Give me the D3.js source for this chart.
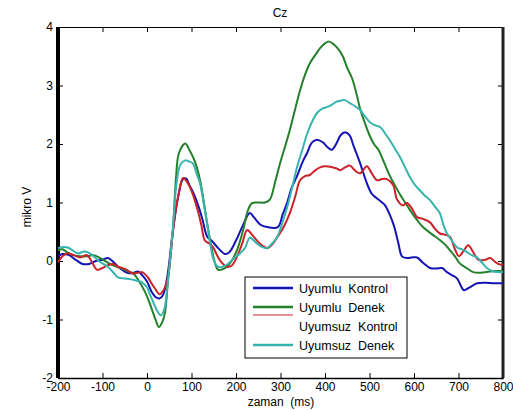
<!DOCTYPE html>
<html>
<head>
<meta charset="utf-8">
<script src="https://cdn.jsdelivr.net/npm/d3@7"></script>
<style>
  body { margin: 0; background: #fff; }
  svg text { font-family: "Liberation Sans", Arial, sans-serif; fill: #000; }
</style>
</head>
<body>
<svg id="chart" width="513" height="410"></svg>
<script>
// ERP dalga formları, Cz elektrodu  [ms, mikroV]
const uyumluKontrol = [[-200,0.08],[-190,0.12],[-175,0.1],[-160,0.02],[-145,-0.05],[-130,-0.05],[-115,0.0],[-100,0.02],[-88,0.05],[-75,-0.02],[-65,-0.1],[-50,-0.18],[-40,-0.21],[-30,-0.2],[-20,-0.18],[-10,-0.25],[0,-0.35],[10,-0.52],[20,-0.62],[28,-0.64],[36,-0.58],[45,-0.3],[58,0.5],[70,1.1],[81,1.4],[88,1.41],[95,1.3],[105,1.15],[115,0.95],[125,0.7],[135,0.42],[145,0.35],[160,0.22],[175,0.12],[185,0.15],[200,0.35],[215,0.6],[231,0.82],[240,0.75],[255,0.62],[270,0.58],[294,0.58],[305,0.8],[315,1.0],[325,1.25],[337,1.45],[350,1.7],[360,1.85],[370,2.02],[380,2.07],[395,2.03],[405,1.95],[415,1.9],[425,2.0],[435,2.15],[445,2.2],[455,2.15],[465,1.95],[479,1.67],[494,1.33],[505,1.15],[515,1.08],[525,1.02],[535,0.95],[545,0.8],[555,0.6],[565,0.3],[573,0.08],[585,0.05],[595,0.06],[607,0.06],[620,-0.03],[636,-0.12],[650,-0.13],[663,-0.12],[674,-0.19],[685,-0.24],[697,-0.3],[705,-0.42],[712,-0.5],[725,-0.45],[742,-0.38],[760,-0.37],[780,-0.38],[800,-0.38]];

const uyumluDenek = [[-200,0.18],[-190,0.2],[-180,0.15],[-165,0.1],[-150,0.08],[-135,0.08],[-120,0.1],[-105,0.05],[-90,-0.02],[-75,-0.08],[-60,-0.12],[-45,-0.17],[-30,-0.22],[-20,-0.32],[-5,-0.52],[5,-0.7],[12,-0.85],[20,-1.02],[27,-1.13],[34,-1.05],[40,-0.9],[47,-0.35],[58,0.5],[65,1.4],[72,1.85],[86,2.01],[95,1.9],[105,1.75],[112,1.6],[120,1.35],[126,1.09],[134,0.7],[142,0.35],[153,-0.04],[160,-0.15],[170,-0.14],[180,-0.1],[190,0.0],[202,0.18],[215,0.5],[227,0.87],[236,0.99],[250,1.0],[265,1.0],[276,1.05],[288,1.35],[299,1.67],[310,1.95],[321,2.24],[333,2.6],[344,2.92],[355,3.18],[366,3.38],[378,3.52],[389,3.64],[400,3.72],[409,3.75],[420,3.7],[430,3.62],[440,3.5],[450,3.3],[461,3.12],[470,2.88],[479,2.6],[490,2.35],[500,2.15],[510,2.0],[520,1.9],[533,1.68],[546,1.45],[558,1.28],[570,1.12],[580,1.0],[591,0.87],[605,0.72],[620,0.58],[640,0.46],[658,0.36],[670,0.28],[681,0.18],[692,0.08],[703,-0.04],[718,-0.12],[733,-0.19],[750,-0.2],[770,-0.18],[785,-0.17],[800,-0.17]];

const uyumsuzKontrol = [[-200,-0.02],[-190,0.08],[-180,0.13],[-165,0.1],[-150,0.06],[-135,0.1],[-125,0.0],[-112,-0.15],[-100,-0.12],[-90,-0.08],[-76,-0.05],[-65,-0.1],[-56,-0.12],[-45,-0.15],[-34,-0.21],[-20,-0.2],[-11,-0.19],[2,-0.28],[10,-0.38],[18,-0.47],[28,-0.57],[37,-0.5],[47,-0.28],[58,0.5],[70,1.1],[81,1.42],[90,1.35],[100,1.2],[112,0.92],[122,0.62],[130,0.35],[140,0.3],[148,0.24],[156,0.12],[164,0.01],[172,-0.06],[180,-0.1],[190,-0.08],[202,0.07],[214,0.3],[225,0.53],[236,0.45],[247,0.35],[258,0.27],[270,0.22],[281,0.28],[292,0.4],[305,0.55],[321,0.82],[333,1.1],[344,1.38],[355,1.45],[366,1.47],[378,1.55],[389,1.6],[400,1.62],[418,1.6],[427,1.58],[434,1.55],[445,1.6],[456,1.63],[467,1.55],[479,1.5],[494,1.62],[505,1.5],[517,1.38],[528,1.4],[539,1.4],[553,1.3],[562,1.05],[575,0.95],[584,0.99],[595,0.9],[607,0.75],[620,0.72],[636,0.66],[647,0.55],[658,0.47],[670,0.45],[681,0.41],[692,0.2],[701,0.08],[712,0.18],[722,0.27],[733,0.15],[745,0.02],[760,0.02],[771,0.05],[783,-0.02],[793,-0.06],[800,-0.06]];

const uyumsuzDenek = [[-200,0.22],[-188,0.24],[-178,0.23],[-165,0.17],[-155,0.13],[-143,0.16],[-133,0.15],[-120,0.08],[-110,0.01],[-98,-0.05],[-88,-0.1],[-75,-0.2],[-65,-0.28],[-50,-0.3],[-38,-0.31],[-27,-0.33],[-15,-0.35],[-9,-0.38],[0,-0.45],[7,-0.58],[15,-0.72],[22,-0.84],[31,-0.93],[39,-0.82],[47,-0.35],[58,0.55],[66,1.3],[75,1.65],[86,1.72],[95,1.7],[103,1.67],[111,1.5],[119,1.33],[127,1.0],[135,0.64],[142,0.3],[148,0.06],[154,-0.05],[160,-0.1],[170,-0.1],[180,-0.06],[186,-0.02],[197,0.06],[209,0.13],[220,0.22],[231,0.4],[240,0.35],[247,0.3],[258,0.24],[270,0.22],[281,0.3],[292,0.4],[304,0.65],[315,0.92],[326,1.25],[337,1.6],[349,1.9],[360,2.18],[371,2.38],[382,2.53],[393,2.6],[404,2.63],[415,2.67],[425,2.72],[434,2.74],[445,2.75],[456,2.7],[467,2.65],[479,2.58],[490,2.47],[501,2.37],[512,2.32],[524,2.29],[535,2.18],[546,2.06],[557,1.92],[569,1.77],[580,1.6],[591,1.43],[602,1.3],[613,1.21],[624,1.12],[636,1.04],[647,0.93],[658,0.82],[666,0.62],[674,0.47],[685,0.35],[697,0.23],[708,0.2],[719,0.15],[730,0.1],[742,0.06],[753,-0.03],[764,-0.12],[775,-0.17],[790,-0.19],[800,-0.19]];

const seriesNames = ['Uyumlu  Kontrol', 'Uyumlu  Denek', 'Uyumsuz  Kontrol', 'Uyumsuz  Denek'];
const seriesData = [uyumluKontrol, uyumluDenek, uyumsuzKontrol, uyumsuzDenek];
const seriesColors = ['#1414b4', '#23802b', '#cc2229', '#38b4ae'];

const xTicks = [-200, -100, 0, 100, 200, 300, 400, 500, 600, 700, 800];
const yTicks = [-2, -1, 0, 1, 2, 3, 4];

const svg = d3.select('#chart');
const plotLeft = 58, plotRight = 503, plotTop = 27, plotBottom = 378;

const x = d3.scaleLinear().domain([-200, 800]).range([plotLeft, plotRight]);
const y = d3.scaleLinear().domain([-2, 4]).range([plotBottom, plotTop]);

// eksenler (etiketlerde düz tire kullanılıyor)
const plainFormat = d => String(d);
const axisFont = g => g.selectAll('text').style('font-size', '12px').style('font-family', '"Liberation Sans", Arial, sans-serif');

svg.append('g')
    .attr('transform', `translate(0, ${plotBottom})`)
    .call(d3.axisBottom(x).tickValues(xTicks).tickFormat(plainFormat).tickSizeInner(-5).tickSizeOuter(0).tickPadding(4))
    .call(axisFont)
    .call(g => g.select('.domain').attr('stroke-width', 1.5));

svg.append('g')
    .attr('transform', `translate(0, ${plotTop})`)
    .call(d3.axisTop(x).tickValues(xTicks).tickSizeInner(-5).tickSizeOuter(0).tickFormat(''))
    .call(g => g.select('.domain').attr('stroke-width', 1));

svg.append('g')
    .attr('transform', `translate(${plotLeft}, 0)`)
    .call(d3.axisLeft(y).tickValues(yTicks).tickFormat(plainFormat).tickSizeInner(-5).tickSizeOuter(0).tickPadding(5))
    .call(axisFont);

svg.append('g')
    .attr('transform', `translate(${plotRight}, 0)`)
    .call(d3.axisRight(y).tickValues(yTicks).tickSizeInner(-5).tickSizeOuter(0).tickFormat(''));

// kalın dikey kenarlar (dolu dikdörtgen olarak)
svg.append('rect')
    .attr('x', plotLeft - 2).attr('y', plotTop)
    .attr('width', 4).attr('height', plotBottom - plotTop)
    .attr('fill', '#000');

svg.append('rect')
    .attr('x', plotRight - 1.5).attr('y', plotTop)
    .attr('width', 3).attr('height', plotBottom - plotTop)
    .attr('fill', '#222');

// dalga çizgileri
const line = d3.line()
    .x(d => x(d[0]))
    .y(d => y(d[1]))
    .curve(d3.curveCatmullRom.alpha(0.5));

seriesData.forEach((data, i) => {
    svg.append('path')
        .datum(data)
        .attr('fill', 'none')
        .attr('stroke', seriesColors[i])
        .attr('stroke-width', 2)
        .attr('stroke-linejoin', 'round')
        .attr('d', line);
});

// başlık ve eksen etiketleri
svg.append('text')
    .attr('x', 280).attr('y', 17)
    .attr('text-anchor', 'middle')
    .style('font-size', '12px')
    .text('Cz');

svg.append('text')
    .attr('x', 281).attr('y', 406)
    .attr('text-anchor', 'middle')
    .style('font-size', '12px')
    .style('white-space', 'pre')
    .text('zaman  (ms)');

svg.append('text')
    .attr('transform', 'translate(31, 207) rotate(-90)')
    .attr('text-anchor', 'middle')
    .style('font-size', '12px')
    .text('mikro V');

// lejant
const legend = svg.append('g').attr('transform', 'translate(245, 277)');

legend.append('rect')
    .attr('width', 162).attr('height', 81)
    .attr('fill', '#fff')
    .attr('stroke', '#000')
    .attr('stroke-width', 1);

const rowY = [11, 30, 49, 68];
// üçüncü girişin çizgisi ince ve ikinci satırın hemen altında duruyor
const lineY = [11, 30, 38, 68];
const lineW = [2.5, 2.5, 1, 2.5];

seriesNames.forEach((name, i) => {
    legend.append('line')
        .attr('x1', 8).attr('x2', 48)
        .attr('y1', lineY[i]).attr('y2', lineY[i])
        .attr('stroke', seriesColors[i])
        .attr('stroke-width', lineW[i]);

    legend.append('text')
        .attr('x', 54).attr('y', rowY[i] + 4.5)
        .style('font-size', '12.5px')
        .style('white-space', 'pre')
        .text(name);
});
</script>
</body>
</html>
